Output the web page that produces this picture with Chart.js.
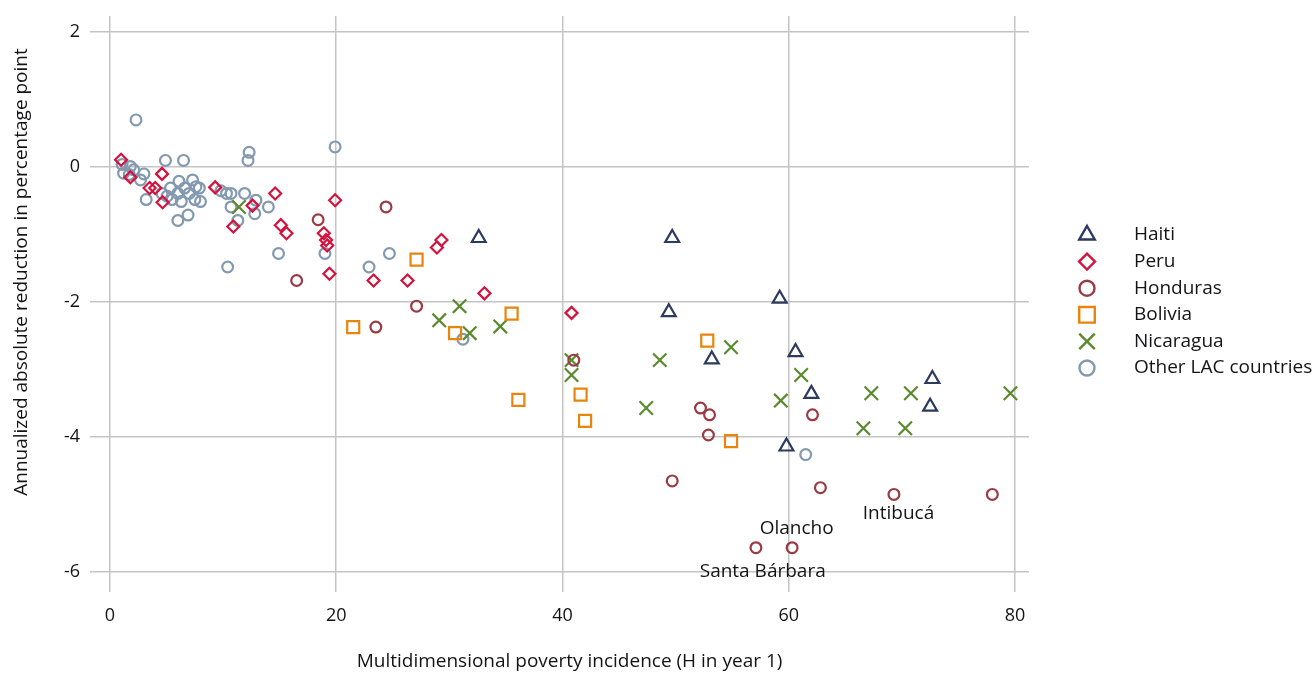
<!DOCTYPE html>
<html>
<head>
<meta charset="utf-8">
<script src="https://cdn.jsdelivr.net/npm/chart.js@4.4.0/dist/chart.umd.min.js"></script>
<style>
  body { margin: 0; background: #fff; }
  #wrap { width: 1314px; height: 673px; position: relative; }
</style>
</head>
<body>
<div id="wrap"><canvas id="myChart"></canvas></div>
<script>
// data
const haitiX = [32.6, 49.7, 49.4, 59.2, 53.2, 60.6, 62.0, 72.7, 72.5, 59.8];
const haitiY = [-1.05, -1.05, -2.15, -1.95, -2.85, -2.74, -3.36, -3.14, -3.55, -4.14];

const peruX = [0.98, 1.8, 4.6, 3.5, 4.0, 4.65, 9.3, 14.6, 12.6, 10.9, 15.1, 15.6, 19.9, 18.9, 19.1, 19.2, 19.4, 23.3, 26.3, 28.9, 29.3, 33.1, 40.8];
const peruY = [0.11, -0.15, -0.1, -0.31, -0.31, -0.52, -0.3, -0.39, -0.57, -0.88, -0.86, -0.98, -0.49, -0.98, -1.08, -1.16, -1.58, -1.68, -1.68, -1.19, -1.08, -1.87, -2.16];

const hondurasX = [18.4, 24.4, 16.5, 27.1, 23.5, 41.0, 49.7, 52.2, 53.0, 52.9, 62.1, 62.8, 69.3, 78.0, 57.1, 60.3];
const hondurasY = [-0.78, -0.59, -1.68, -2.06, -2.37, -2.86, -4.65, -3.57, -3.67, -3.97, -3.67, -4.75, -4.85, -4.85, -5.64, -5.64];

const boliviaX = [21.5, 27.1, 30.5, 35.5, 36.1, 41.6, 42.0, 52.8, 54.9];
const boliviaY = [-2.37, -1.37, -2.46, -2.17, -3.45, -3.37, -3.76, -2.57, -4.06];

const nicaraguaX = [11.4, 29.1, 30.9, 31.8, 34.5, 40.8, 40.8, 47.4, 48.6, 54.9, 59.3, 61.1, 66.6, 67.3, 70.3, 70.8, 79.6];
const nicaraguaY = [-0.59, -2.27, -2.06, -2.46, -2.36, -2.86, -3.08, -3.57, -2.86, -2.67, -3.46, -3.08, -3.87, -3.35, -3.87, -3.35, -3.35];

const otherX = [2.3, 4.9, 6.5, 12.3, 12.2, 19.9, 1.07, 1.8, 2.1, 1.2, 1.7, 3.0, 2.7, 3.2, 4.6, 5.35, 6.1, 7.3, 7.9, 6.6,
  7.0, 6.0, 5.05, 5.5, 6.3, 7.5, 8.0, 7.6, 6.9, 6.0, 9.8, 10.3, 10.7, 11.9, 10.7, 12.9, 12.8, 14.0, 11.3, 10.4,
  14.9, 19.0, 22.9, 24.7, 31.2, 61.5];
const otherY = [0.7, 0.1, 0.1, 0.22, 0.1, 0.3, 0.04, 0.01, -0.04, -0.09, -0.11, -0.1, -0.19, -0.48, -0.39, -0.31, -0.21, -0.19, -0.31, -0.31,
  -0.39, -0.39, -0.43, -0.48, -0.51, -0.48, -0.51, -0.29, -0.71, -0.79, -0.35, -0.39, -0.39, -0.39, -0.59, -0.49, -0.69, -0.59, -0.79, -1.48,
  -1.28, -1.28, -1.48, -1.28, -2.55, -4.26];

const xTicks = [0, 20, 40, 60, 80];
const yTicks = [-6, -4, -2, 0, 2];

// region labels (anchor in data units)
const labelText = ['Olancho', 'Intibucá', 'Santa Bárbara'];
const labelX = [60.7, 69.7, 57.7];
const labelY = [-5.35, -5.13, -6.0];

const yTitle = 'Annualized absolute reduction in percentage point';

const FONT = "'Open Sans', 'Noto Sans', sans-serif";
const TXT = '#141416';

function pts(xs, ys) {
  return xs.map((x, i) => ({ x: x, y: ys[i] }));
}

function series(label, xs, ys, color, style, radius, legendRadius) {
  return {
    label: label,
    data: pts(xs, ys),
    pointStyle: style,
    pointRadius: radius,
    pointHoverRadius: radius,
    pointBorderWidth: 2.2,
    pointHoverBorderWidth: 2.2,
    pointBorderColor: color,
    pointBackgroundColor: 'rgba(0,0,0,0)',
    borderColor: color,
    backgroundColor: 'rgba(0,0,0,0)',
    showLine: false,
    clip: false,
    legendRadius: legendRadius
  };
}

const data = {
  datasets: [
    series('Haiti', haitiX, haitiY, '#2d3a5e', 'triangle', 8, 9),
    series('Peru', peruX, peruY, '#d3123e', 'rectRot', 6, 8),
    series('Honduras', hondurasX, hondurasY, '#9a3a44', 'circle', 5.4, 7.5),
    series('Bolivia', boliviaX, boliviaY, '#e9840c', 'rect', 8.5, 11),
    series('Nicaragua', nicaraguaX, nicaraguaY, '#5b8a2e', 'crossRot', 9.5, 11),
    series('Other LAC countries', otherX, otherY, '#8299b0', 'circle', 5.4, 7.5)
  ]
};

// legend drawn on the right
const sideLegend = {
  id: 'sideLegend',
  afterDraw(chart) {
    const ctx = chart.ctx;
    ctx.save();
    chart.data.datasets.forEach((ds, i) => {
      const y = 235 + i * 26.6;
      ctx.strokeStyle = ds.pointBorderColor;
      ctx.fillStyle = 'rgba(0,0,0,0)';
      ctx.lineWidth = 2.4;
      Chart.helpers.drawPoint(ctx, {
        pointStyle: ds.pointStyle, radius: ds.legendRadius, rotation: 0, borderWidth: 2.4
      }, 1087, y);
      ctx.fillStyle = TXT;
      ctx.font = '500 19px ' + FONT;
      ctx.textAlign = 'left';
      ctx.textBaseline = 'middle';
      ctx.fillText(ds.label, 1134, y);
    });
    ctx.restore();
  }
};

const regionLabels = {
  id: 'regionLabels',
  afterDatasetsDraw(chart) {
    const ctx = chart.ctx;
    const sx = chart.scales.x, sy = chart.scales.y;
    ctx.save();
    ctx.fillStyle = TXT;
    ctx.font = '500 19px ' + FONT;
    ctx.textAlign = 'center';
    ctx.textBaseline = 'middle';
    labelText.forEach((t, i) => {
      ctx.fillText(t, sx.getPixelForValue(labelX[i]), sy.getPixelForValue(labelY[i]));
    });
    // vertical axis title
    ctx.translate(22, 272);
    ctx.rotate(-Math.PI / 2);
    ctx.fillText(yTitle, 0, 0);
    ctx.restore();
  }
};

const gridColor = '#c4c4c4';

const config = {
  type: 'scatter',
  data,
  options: {
    responsive: true,
    maintainAspectRatio: false,
    animation: false,
    events: [],
    layout: { padding: { top: 16, right: 285, bottom: 0, left: 0 } },
    plugins: {
      legend: { display: false },
      tooltip: { enabled: false }
    },
    scales: {
      x: {
        type: 'linear',
        min: 0,
        max: 81.24,
        afterBuildTicks: s => { s.ticks = xTicks.map(v => ({ value: v })); },
        afterFit: s => { s.height = 101; s.paddingLeft = 0; s.paddingRight = 0; },
        grid: { color: gridColor, lineWidth: 1.5, tickLength: 20, drawTicks: true },
        border: { display: false },
        ticks: { color: TXT, font: { family: FONT, size: 18, weight: '500' }, padding: 13, maxRotation: 0 },
        title: {
          display: true,
          text: 'Multidimensional poverty incidence (H in year 1)',
          color: TXT,
          font: { family: FONT, size: 19, weight: '500' },
          padding: { top: 0, bottom: 0 }
        }
      },
      y: {
        type: 'linear',
        min: -6,
        max: 2.24,
        afterBuildTicks: s => { s.ticks = yTicks.map(v => ({ value: v })); },
        afterFit: s => { s.width = 110; s.paddingTop = 0; s.paddingBottom = 0; },
        grid: { color: gridColor, lineWidth: 1.5, tickLength: 20, drawTicks: true },
        border: { display: false },
        ticks: { color: TXT, font: { family: FONT, size: 18, weight: '500' }, padding: 10 }
      }
    }
  },
  plugins: [regionLabels, sideLegend]
};

const myChart = new Chart(document.getElementById('myChart'), config);
</script>
</body>
</html>
